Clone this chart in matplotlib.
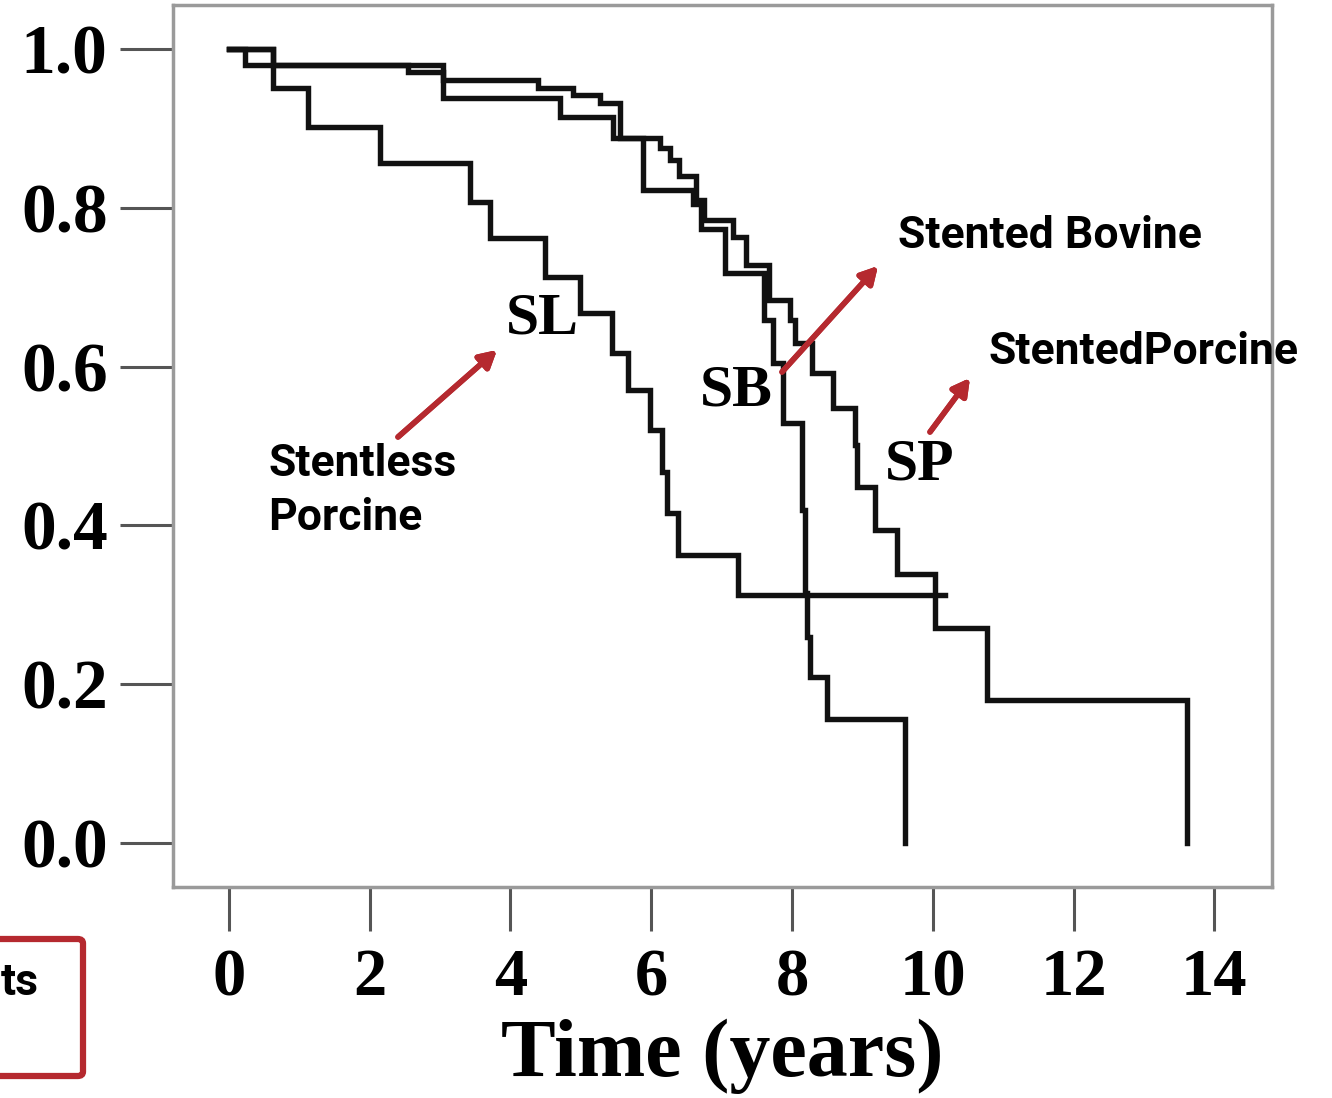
import matplotlib.pyplot as plt
from matplotlib.patches import FancyBboxPatch

# Kaplan-Meier step data (time in years, survival)
sl_time = [0.0, 0.62, 1.12, 2.14, 3.42, 3.71, 4.49, 4.99, 5.44, 5.67, 5.98, 6.15, 6.22, 6.38, 7.23, 10.17]
sl_surv = [1.0, 0.951, 0.902, 0.856, 0.807, 0.762, 0.713, 0.667, 0.617, 0.571, 0.520, 0.467, 0.416, 0.363, 0.312, 0.312]

sb_time = [0.0, 0.23, 3.04, 4.70, 5.45, 5.88, 6.59, 6.70, 7.05, 7.60, 7.73, 7.87, 8.14, 8.18, 8.22, 8.26, 8.50, 9.60]
sb_surv = [1.0, 0.979, 0.938, 0.914, 0.888, 0.822, 0.805, 0.773, 0.718, 0.659, 0.605, 0.529, 0.420, 0.315, 0.260, 0.209, 0.157, 0.0]

sp_time = [0.0, 0.62, 2.54, 3.04, 4.39, 4.89, 5.27, 5.55, 6.13, 6.27, 6.40, 6.64, 6.75, 7.16, 7.34,
           7.68, 7.97, 8.04, 8.28, 8.58, 8.89, 8.93, 9.18, 9.49, 10.03, 10.77, 13.61]
sp_surv = [1.0, 0.979, 0.971, 0.960, 0.951, 0.942, 0.932, 0.888, 0.875, 0.860, 0.840, 0.810, 0.784, 0.763, 0.728,
           0.684, 0.659, 0.630, 0.592, 0.548, 0.501, 0.448, 0.394, 0.339, 0.271, 0.180, 0.0]

x_ticks = [0, 2, 4, 6, 8, 10, 12, 14]
y_ticks = [0.0, 0.2, 0.4, 0.6, 0.8, 1.0]

W, H = 1332, 1098
RED = '#b5292f'


def fx(px):
    return px / W


def fy(py):
    return 1 - py / H


fig = plt.figure(figsize=(13.32, 10.98), dpi=100)
ax = fig.add_axes([fx(173), fy(887), fx(1272) - fx(173), fy(5) - fy(887)])

for t, s in [(sl_time, sl_surv), (sb_time, sb_surv), (sp_time, sp_surv)]:
    ax.step(t, s, where='post', color='#111111', lw=3.9, solid_joinstyle='miter')

ax.set_xlim(-0.795, 14.82)
ax.set_ylim(-0.055, 1.055)

for sp in ax.spines.values():
    sp.set_color('#9a9a9a')
    sp.set_linewidth(2.5)

serif = 'Liberation Serif'
ax.set_xticks(x_ticks)
ax.set_xticklabels([str(v) for v in x_ticks], fontfamily=serif, fontweight='bold', fontsize=48)
ax.set_yticks(y_ticks)
ax.set_yticklabels([f'{v:.1f}' for v in y_ticks], fontfamily=serif, fontweight='bold', fontsize=50)
ax.tick_params(axis='y', direction='out', length=38, width=2.2, color='#555555', pad=9)
ax.tick_params(axis='x', direction='out', length=32, width=2.2, color='#555555', pad=12)

ax.set_xlabel('Time (years)', fontfamily=serif, fontweight='bold', fontsize=59)
ax.xaxis.set_label_coords(0.50, -0.149)

# curve labels
ax.text(fx(542), fy(320), 'SL', transform=fig.transFigure, ha='center', va='center',
        fontfamily=serif, fontweight='bold', fontsize=43)
ax.text(fx(736), fy(392), 'SB', transform=fig.transFigure, ha='center', va='center',
        fontfamily=serif, fontweight='bold', fontsize=43)
ax.text(fx(920), fy(465), 'SP', transform=fig.transFigure, ha='center', va='center',
        fontfamily=serif, fontweight='bold', fontsize=43)

# annotations
sans = 'Roboto'
fig.text(fx(898), fy(236), 'Stented Bovine', ha='left', va='center', fontfamily=sans,
         fontweight='bold', fontsize=32)
fig.text(fx(988), fy(352), 'StentedPorcine', ha='left', va='center', fontfamily=sans,
         fontweight='bold', fontsize=32)
fig.text(fx(268), fy(491), 'Stentless\nPorcine', ha='left', va='center', fontfamily=sans,
         fontweight='bold', fontsize=32, linespacing=1.38)

arrows = [((398, 437), (497, 350)), ((782, 372), (878, 266)), ((930, 432), (970, 378))]
for (x0, y0), (x1, y1) in arrows:
    fig.add_artist(plt.annotate('', xy=(fx(x1), fy(y1)), xytext=(fx(x0), fy(y0)),
                                xycoords='figure fraction', textcoords='figure fraction',
                                arrowprops=dict(arrowstyle='-|>,head_length=1.0,head_width=0.55',
                                                color=RED, lw=4, shrinkA=0, shrinkB=0)))

# partial red box at the bottom left
box = FancyBboxPatch((fx(-40), fy(1076)), fx(123), fy(939) - fy(1076),
                     boxstyle='round,pad=0,rounding_size=0.004', transform=fig.transFigure,
                     facecolor='none', edgecolor=RED, lw=4.5, clip_on=False)
fig.add_artist(box)
fig.text(fx(1), fy(983), 'ts', ha='left', va='center', fontfamily=sans,
         fontweight='bold', fontsize=32)

fig.savefig('out.png', dpi=100)
